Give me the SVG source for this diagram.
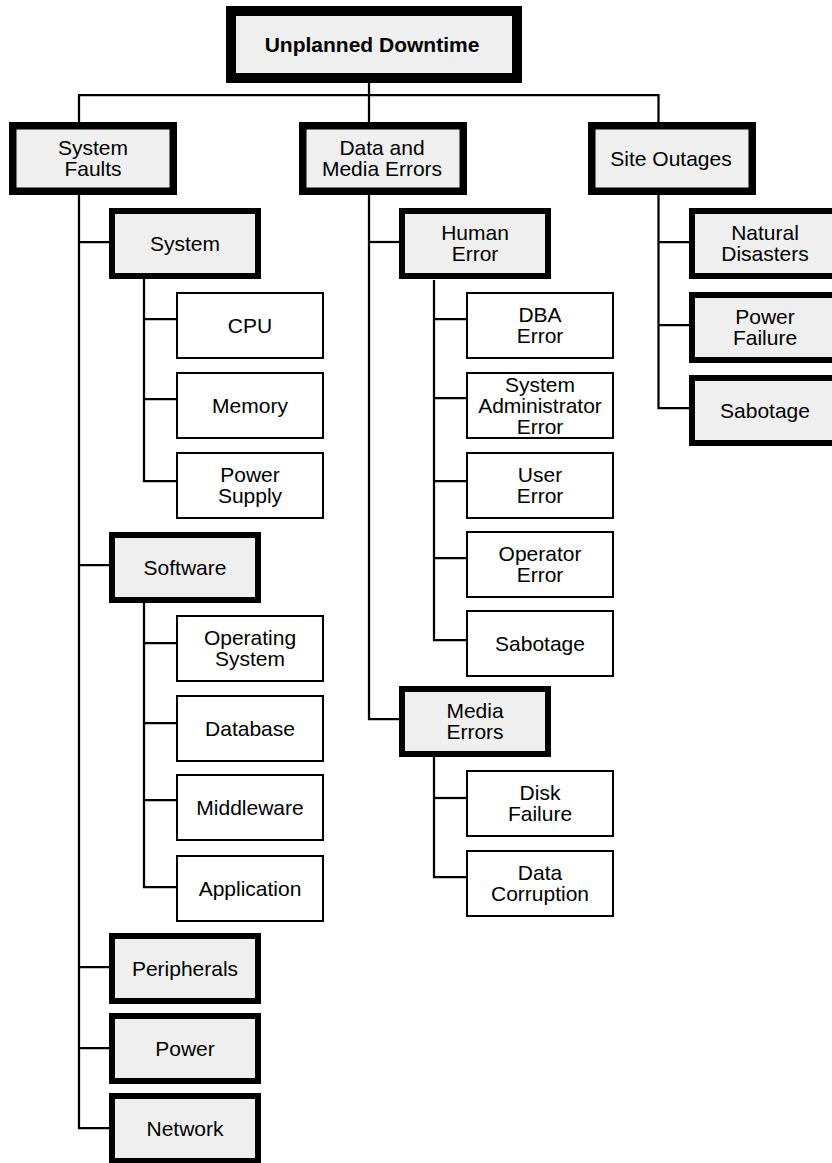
<svg xmlns="http://www.w3.org/2000/svg" width="832" height="1163" viewBox="0 0 832 1163">
  <style>
    .bg { fill: #ffffff; }
    .root { fill: #efefef; stroke: #000; stroke-width: 10; }
    .l1 { fill: #efefef; stroke: #000; stroke-width: 7.5; }
    .l2 { fill: #efefef; stroke: #000; stroke-width: 6; }
    .leaf { fill: #ffffff; stroke: #000; stroke-width: 2; }
    .lbl { font-family: "Liberation Sans", Arial, Helvetica, sans-serif; font-size: 21px; text-anchor: middle; fill: #000; }
    .bold { font-weight: bold; }
    .wire { fill: none; stroke: #000; stroke-width: 2.25; stroke-linejoin: miter; }
  </style>
  <rect class="bg" x="0" y="0" width="832" height="1163"/>

  <!-- tree connectors -->
  <g id="connectors">
    <path class="wire" d="M369,83 V122"/>
    <path class="wire" d="M79,122 V95 H658.5 V122"/>
    <!-- System Faults branch -->
    <path class="wire" d="M79,195 V1128 H109"/>
    <path class="wire" d="M79,242 H109 M79,565 H109 M79,967 H109 M79,1048 H109"/>
    <path class="wire" d="M144,278 V481 H176"/>
    <path class="wire" d="M144,319 H176 M144,399 H176"/>
    <path class="wire" d="M144,603 V887 H176"/>
    <path class="wire" d="M144,643 H176 M144,723 H176 M144,800 H176"/>
    <!-- Data and Media Errors branch -->
    <path class="wire" d="M369,195 V719 H399"/>
    <path class="wire" d="M369,242 H399"/>
    <path class="wire" d="M434,280 V640 H466"/>
    <path class="wire" d="M434,319 H466 M434,398 H466 M434,481 H466 M434,558 H466"/>
    <path class="wire" d="M434,757 V877 H466"/>
    <path class="wire" d="M434,798 H466"/>
    <!-- Site Outages branch -->
    <path class="wire" d="M658.5,195 V408 H689"/>
    <path class="wire" d="M658.5,242 H689 M658.5,325 H689"/>
  </g>

  <!-- root -->
  <g id="unplanned-downtime">
    <rect class="root" x="231" y="11" width="286" height="67"/>
    <text class="lbl bold" x="372" y="52">Unplanned Downtime</text>
  </g>

  <!-- first level -->
  <g id="system-faults">
    <rect class="l1" x="12.75" y="125.75" width="160.5" height="65.5"/>
    <text class="lbl" x="93" y="155">System</text>
    <text class="lbl" x="93" y="176">Faults</text>
  </g>
  <g id="data-media-errors">
    <rect class="l1" x="302.75" y="125.75" width="160.5" height="65.5"/>
    <text class="lbl" x="382" y="155">Data and</text>
    <text class="lbl" x="382" y="176">Media Errors</text>
  </g>
  <g id="site-outages">
    <rect class="l1" x="591.75" y="125.75" width="160.5" height="65.5"/>
    <text class="lbl" x="671" y="165.5">Site Outages</text>
  </g>

  <!-- second level: System Faults -->
  <g id="system">
    <rect class="l2" x="112" y="211" width="146" height="65"/>
    <text class="lbl" x="185" y="250.5">System</text>
  </g>
  <g id="software">
    <rect class="l2" x="112" y="535" width="146" height="65"/>
    <text class="lbl" x="185" y="574.5">Software</text>
  </g>
  <g id="peripherals">
    <rect class="l2" x="112" y="936" width="146" height="65"/>
    <text class="lbl" x="185" y="975.5">Peripherals</text>
  </g>
  <g id="power">
    <rect class="l2" x="112" y="1016" width="146" height="65"/>
    <text class="lbl" x="185" y="1055.5">Power</text>
  </g>
  <g id="network">
    <rect class="l2" x="112" y="1096" width="146" height="65"/>
    <text class="lbl" x="185" y="1135.5">Network</text>
  </g>

  <!-- second level: Data and Media Errors -->
  <g id="human-error">
    <rect class="l2" x="402" y="211" width="146" height="65"/>
    <text class="lbl" x="475" y="240">Human</text>
    <text class="lbl" x="475" y="261">Error</text>
  </g>
  <g id="media-errors">
    <rect class="l2" x="402" y="689" width="146" height="65"/>
    <text class="lbl" x="475" y="718">Media</text>
    <text class="lbl" x="475" y="739">Errors</text>
  </g>

  <!-- second level: Site Outages -->
  <g id="natural-disasters">
    <rect class="l2" x="692" y="211" width="146" height="65"/>
    <text class="lbl" x="765" y="240">Natural</text>
    <text class="lbl" x="765" y="261">Disasters</text>
  </g>
  <g id="power-failure">
    <rect class="l2" x="692" y="295" width="146" height="65"/>
    <text class="lbl" x="765" y="324">Power</text>
    <text class="lbl" x="765" y="345">Failure</text>
  </g>
  <g id="site-sabotage">
    <rect class="l2" x="692" y="378" width="146" height="65"/>
    <text class="lbl" x="765" y="417.5">Sabotage</text>
  </g>

  <!-- leaves under System -->
  <g id="cpu">
    <rect class="leaf" x="177" y="293" width="146" height="65"/>
    <text class="lbl" x="250" y="332.5">CPU</text>
  </g>
  <g id="memory">
    <rect class="leaf" x="177" y="373" width="146" height="65"/>
    <text class="lbl" x="250" y="412.5">Memory</text>
  </g>
  <g id="power-supply">
    <rect class="leaf" x="177" y="453" width="146" height="65"/>
    <text class="lbl" x="250" y="482">Power</text>
    <text class="lbl" x="250" y="503">Supply</text>
  </g>

  <!-- leaves under Software -->
  <g id="operating-system">
    <rect class="leaf" x="177" y="616" width="146" height="65"/>
    <text class="lbl" x="250" y="645">Operating</text>
    <text class="lbl" x="250" y="666">System</text>
  </g>
  <g id="database">
    <rect class="leaf" x="177" y="696" width="146" height="65"/>
    <text class="lbl" x="250" y="735.5">Database</text>
  </g>
  <g id="middleware">
    <rect class="leaf" x="177" y="775" width="146" height="65"/>
    <text class="lbl" x="250" y="814.5">Middleware</text>
  </g>
  <g id="application">
    <rect class="leaf" x="177" y="856" width="146" height="65"/>
    <text class="lbl" x="250" y="895.5">Application</text>
  </g>

  <!-- leaves under Human Error -->
  <g id="dba-error">
    <rect class="leaf" x="467" y="293" width="146" height="65"/>
    <text class="lbl" x="540" y="322">DBA</text>
    <text class="lbl" x="540" y="343">Error</text>
  </g>
  <g id="sysadmin-error">
    <rect class="leaf" x="467" y="373" width="146" height="65"/>
    <text class="lbl" x="540" y="391.5">System</text>
    <text class="lbl" x="540" y="412.5">Administrator</text>
    <text class="lbl" x="540" y="433.5">Error</text>
  </g>
  <g id="user-error">
    <rect class="leaf" x="467" y="453" width="146" height="65"/>
    <text class="lbl" x="540" y="482">User</text>
    <text class="lbl" x="540" y="503">Error</text>
  </g>
  <g id="operator-error">
    <rect class="leaf" x="467" y="532" width="146" height="65"/>
    <text class="lbl" x="540" y="561">Operator</text>
    <text class="lbl" x="540" y="582">Error</text>
  </g>
  <g id="human-sabotage">
    <rect class="leaf" x="467" y="611" width="146" height="65"/>
    <text class="lbl" x="540" y="650.5">Sabotage</text>
  </g>

  <!-- leaves under Media Errors -->
  <g id="disk-failure">
    <rect class="leaf" x="467" y="771" width="146" height="65"/>
    <text class="lbl" x="540" y="800">Disk</text>
    <text class="lbl" x="540" y="821">Failure</text>
  </g>
  <g id="data-corruption">
    <rect class="leaf" x="467" y="851" width="146" height="65"/>
    <text class="lbl" x="540" y="880">Data</text>
    <text class="lbl" x="540" y="901">Corruption</text>
  </g>
</svg>
